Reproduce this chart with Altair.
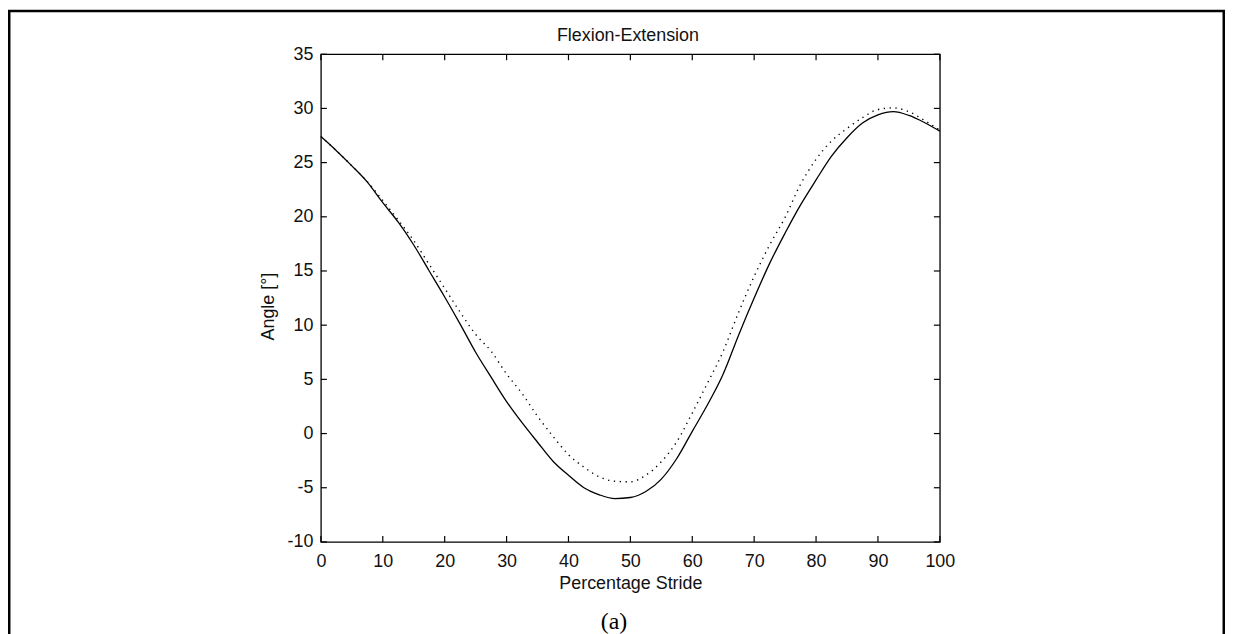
import altair as alt
import pandas as pd

# ---- data ----
pct = [0, 2.5, 5, 7.5, 10, 12.5, 15, 17.5, 20, 22.5, 25, 27.5, 30, 32.5, 35, 37.5,
       40, 42.5, 45, 47.5, 50, 52.5, 55, 57.5, 60, 62.5, 65, 67.5, 70, 72.5, 75,
       77.5, 80, 82.5, 85, 87.5, 90, 92.5, 95, 97.5, 100]
angle_solid = [27.4, 26.1, 24.7, 23.2, 21.3, 19.5, 17.4, 15.0, 12.6, 10.1, 7.5, 5.2,
               2.95, 1.0, -0.8, -2.55, -3.85, -5.0, -5.65, -6.0, -5.9, -5.35, -4.2,
               -2.3, 0.2, 2.7, 5.5, 9.1, 12.5, 15.7, 18.5, 21.1, 23.4, 25.6, 27.3,
               28.65, 29.4, 29.7, 29.35, 28.7, 27.9]
angle_dotted = [27.4, 26.1, 24.7, 23.25, 21.5, 19.7, 17.8, 15.6, 13.4, 11.2, 9.15, 7.6,
                5.5, 3.7, 1.6, -0.25, -1.95, -3.1, -4.0, -4.4, -4.45, -3.85, -2.6,
                -0.75, 1.9, 4.7, 7.6, 11.2, 14.5, 17.4, 19.95, 23.0, 25.3, 27.0, 28.15,
                29.15, 29.9, 30.05, 29.7, 28.9, 28.0]
x_ticks = [0, 10, 20, 30, 40, 50, 60, 70, 80, 90, 100]
y_ticks = [-10, -5, 0, 5, 10, 15, 20, 25, 30, 35]
title_text = "Flexion-Extension"
x_title = "Percentage Stride"
y_title = "Angle [°]"
caption_text = "(a)"

# ---- layout ----
W, H = 622.5, 490.5
PAD_L, PAD_T = 314.7, 44.7
TOTAL_W, TOTAL_H = 1224, 626
FONT = "Liberation Sans"
INK = "#111111"
PLAIN_LABEL = "datum.value + ''"

solid_df = pd.DataFrame({"pct": pct, "angle": angle_solid})
dotted_df = pd.DataFrame({"pct": pct, "angle": angle_dotted})
xt_df = pd.DataFrame({"pct": x_ticks})
yt_df = pd.DataFrame({"angle": y_ticks})

xs = alt.Scale(domain=[0, 100], nice=False, zero=False)
ys = alt.Scale(domain=[-10, 35], nice=False, zero=False)

x_axis = alt.Axis(values=x_ticks, title=x_title, ticks=False, domain=False, grid=False,
                  labelFlush=False, labelFont=FONT, labelFontSize=18, labelColor=INK,
                  labelBaseline="alphabetic", labelPadding=24.8, labelExpr=PLAIN_LABEL,
                  titleFont=FONT, titleFontSize=18, titleFontWeight="normal",
                  titleColor=INK, titleBaseline="alphabetic", titleAlign="center",
                  titleX=W / 2, titleY=46.8)
y_axis = alt.Axis(values=y_ticks, title=y_title, ticks=False, domain=False, grid=False,
                  labelFlush=False, labelFont=FONT, labelFontSize=18, labelColor=INK,
                  labelPadding=8, labelExpr=PLAIN_LABEL,
                  titleFont=FONT, titleFontSize=18, titleFontWeight="normal",
                  titleColor=INK, titleBaseline="alphabetic", titleAlign="center",
                  titleAngle=270, titleX=-47.7, titleY=253.3)

X = alt.X("pct:Q", scale=xs, axis=x_axis)
Y = alt.Y("angle:Q", scale=ys, axis=y_axis)

solid = alt.Chart(solid_df).mark_line(color="#000000", strokeWidth=1.3,
                                      interpolate="monotone").encode(x=X, y=Y)
dotted = alt.Chart(dotted_df).mark_line(color="#000000", strokeWidth=1.4,
                                        strokeDash=[1.3, 4.6],
                                        interpolate="monotone").encode(x=X, y=Y)

tick_style = dict(color="#000000", thickness=1.2, size=6, opacity=1)
xt_bottom = alt.Chart(xt_df).mark_tick(orient="vertical", **tick_style).encode(
    x=X, y=alt.value(H - 3))
xt_top = alt.Chart(xt_df).mark_tick(orient="vertical", **tick_style).encode(
    x=X, y=alt.value(3))
yt_left = alt.Chart(yt_df).mark_tick(orient="horizontal", **tick_style).encode(
    y=Y, x=alt.value(3))
yt_right = alt.Chart(yt_df).mark_tick(orient="horizontal", **tick_style).encode(
    y=Y, x=alt.value(W - 3))

title = alt.Chart(alt.Data(values=[{"t": title_text}])).mark_text(
    font=FONT, fontSize=18, color=INK, align="center", baseline="alphabetic"
).encode(text="t:N", x=alt.value(308.8), y=alt.value(-13.2))

caption = alt.Chart(alt.Data(values=[{"t": caption_text}])).mark_text(
    font="Liberation Serif", fontSize=24, color="#000000", align="center",
    baseline="alphabetic"
).encode(text="t:N", x=alt.value(294.8), y=alt.value(578.3))

border = alt.Chart(alt.Data(values=[{"k": 1}])).mark_rect(
    fillOpacity=0, stroke="#000000", strokeWidth=2.5
).encode(
    x=alt.value(1.25 - PAD_L), x2=alt.value(TOTAL_W - 1.25 - PAD_L),
    y=alt.value(1.25 - PAD_T), y2=alt.value(TOTAL_H + 40 - PAD_T),
)

chart = alt.layer(
    solid, dotted, xt_bottom, xt_top, yt_left, yt_right, title, caption, border
).properties(
    width=W, height=H,
    autosize=alt.AutoSizeParams(type="none"),
    padding={"left": PAD_L, "top": PAD_T,
             "right": TOTAL_W - PAD_L - W, "bottom": TOTAL_H - PAD_T - H},
    background="#ffffff",
).configure_view(stroke="#000000", strokeWidth=1.3)

chart.save("out.html", embed_options={"renderer": "svg", "actions": False})
